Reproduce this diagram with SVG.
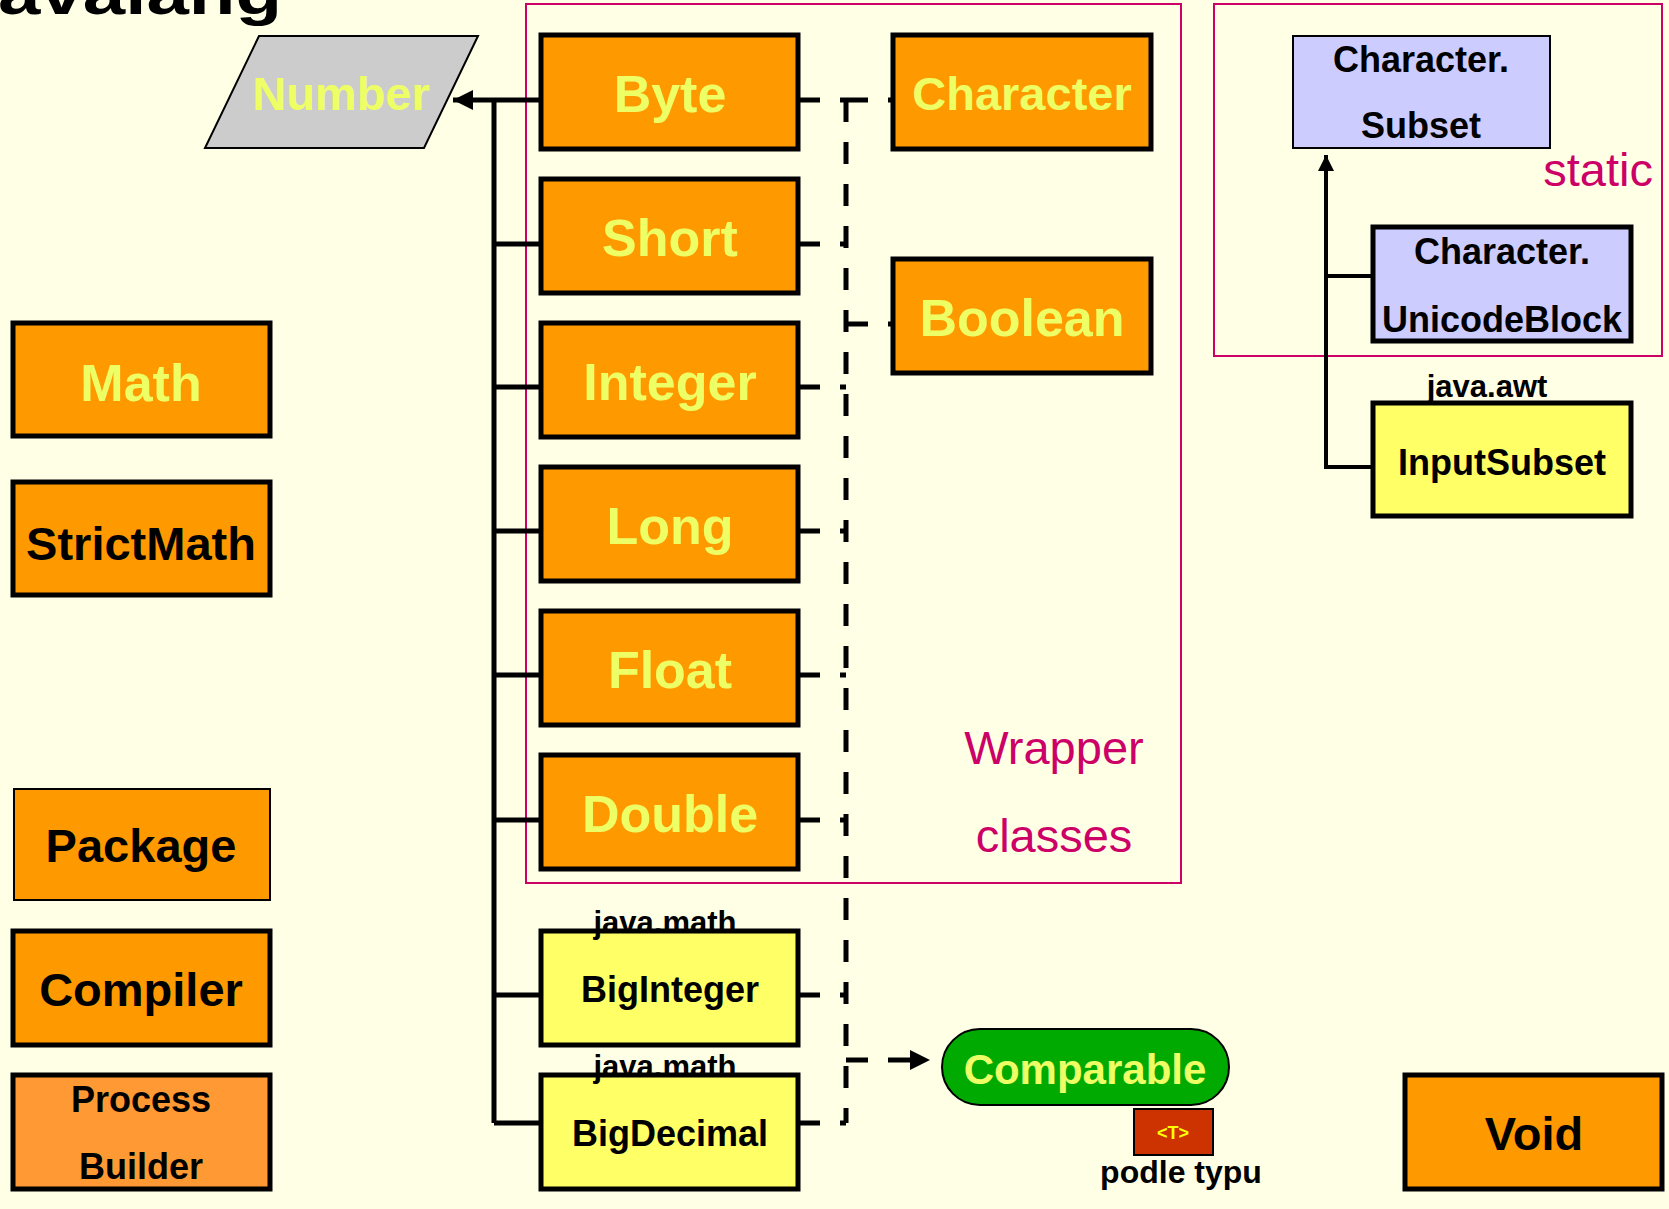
<svg xmlns="http://www.w3.org/2000/svg" width="1669" height="1209" viewBox="0 0 1669 1209">
  <style>
    text { font-family: "Liberation Sans", Arial, Helvetica, sans-serif; font-weight: 700; text-anchor: middle; }
    .box { stroke: #000; stroke-width: 5; }
    .thin { stroke: #000; stroke-width: 2; }
    .orange { fill: #ff9900; }
    .pale { fill: #ffff66; }
    .lav { fill: #ccccff; }
    .big { font-size: 52px; fill: #eeff66; }
    .dark { font-size: 47px; fill: #000; }
    .mid { font-size: 36px; fill: #000; }
    .pkg { font-size: 31px; fill: #000; }
    .group { fill: none; stroke: #cc0066; stroke-width: 2; }
    .note { font-weight: 400; font-size: 47px; fill: #cc0066; }
    .solid { fill: none; stroke: #000; stroke-width: 5; }
    .dash { fill: none; stroke: #000; stroke-width: 5; stroke-dasharray: 22 20; }
  </style>
  <defs>
    <marker id="tri" viewBox="0 0 10 10" refX="10" refY="5" markerWidth="4" markerHeight="4" markerUnits="strokeWidth" orient="auto">
      <path d="M0,0 L10,5 L0,10 z" fill="#000"/>
    </marker>
  </defs>

  <rect width="1669" height="1209" fill="#ffffe6"/>

  <!-- heading, partly above the top edge -->
  <text x="-2" y="14" style="text-anchor:start;font-size:60px" textLength="284" lengthAdjust="spacingAndGlyphs">avalang</text>

  <!-- grouping frames -->
  <g id="wrapper-frame">
    <rect class="group" x="526" y="4" width="655" height="879"/>
    <text class="note" x="1054" y="764">Wrapper</text>
    <text class="note" x="1054" y="852">classes</text>
  </g>
  <g id="static-frame">
    <rect class="group" x="1214" y="4" width="448" height="352"/>
    <text class="note" x="1653" y="186" style="text-anchor:end">static</text>
  </g>

  <!-- connectors -->
  <g id="connectors">
    <!-- inheritance from Number -->
    <path class="solid" d="M494,100 V1123"/>
    <path class="solid" d="M541,100 H453" marker-end="url(#tri)"/>
    <path class="solid" d="M494,244 H541 M494,387 H541 M494,531 H541 M494,675 H541 M494,820 H541 M494,995 H541 M494,1123 H541"/>
    <!-- Comparable realisation -->
    <path class="dash" d="M798,100 H846 M798,244 H846 M798,387 H846 M798,531 H846 M798,675 H846 M798,820 H846 M798,995 H846 M798,1123 H846"/>
    <path class="dash" d="M846,100 H893 M846,324 H893"/>
    <path class="dash" d="M846,100 V1123"/>
    <path class="dash" d="M846,1060 H930" marker-end="url(#tri)"/>
    <!-- Character.Subset hierarchy -->
    <path class="solid" d="M1373,467 H1326 V155" marker-end="url(#tri)" style="stroke-width:4"/>
    <path class="solid" d="M1326,276 H1373" style="stroke-width:4"/>
  </g>

  <g id="number">
    <polygon points="259,36 478,36 424,148 205,148" fill="#cccccc" class="thin"/>
    <text x="341" y="110" style="font-size:47px;fill:#eeff66">Number</text>
  </g>

  <g id="byte"><rect class="box orange" x="541" y="35" width="257" height="114"/><text class="big" x="670" y="112">Byte</text></g>
  <g id="short"><rect class="box orange" x="541" y="179" width="257" height="114"/><text class="big" x="670" y="256">Short</text></g>
  <g id="integer"><rect class="box orange" x="541" y="323" width="257" height="114"/><text class="big" x="670" y="400">Integer</text></g>
  <g id="long"><rect class="box orange" x="541" y="467" width="257" height="114"/><text class="big" x="670" y="544">Long</text></g>
  <g id="float"><rect class="box orange" x="541" y="611" width="257" height="114"/><text class="big" x="670" y="688">Float</text></g>
  <g id="double"><rect class="box orange" x="541" y="755" width="257" height="114"/><text class="big" x="670" y="832">Double</text></g>

  <g id="character"><rect class="box orange" x="893" y="35" width="258" height="114"/><text class="big" x="1022" y="110" style="font-size:47px">Character</text></g>
  <g id="boolean"><rect class="box orange" x="893" y="259" width="258" height="114"/><text class="big" x="1022" y="336">Boolean</text></g>

  <g id="biginteger">
    <rect class="box pale" x="541" y="931" width="257" height="114"/>
    <text class="mid" x="670" y="1002">BigInteger</text>
    <text class="pkg" x="665" y="933">java.math</text>
  </g>
  <g id="bigdecimal">
    <rect class="box pale" x="541" y="1075" width="257" height="114"/>
    <text class="mid" x="670" y="1146">BigDecimal</text>
    <text class="pkg" x="665" y="1077">java.math</text>
  </g>

  <g id="comparable">
    <rect x="942" y="1029" width="287" height="76" rx="38" fill="#00aa00" stroke="#000" stroke-width="2"/>
    <text x="1085" y="1084" style="font-size:42px;fill:#eeff66">Comparable</text>
  </g>
  <g id="type-param">
    <rect x="1134" y="1109" width="79" height="46" fill="#cc3300" stroke="#000" stroke-width="2"/>
    <text x="1173" y="1139" style="font-size:18px;fill:#ffff00">&lt;T&gt;</text>
    <text x="1181" y="1183" style="font-size:32px;fill:#000">podle typu</text>
  </g>

  <g id="math"><rect class="box orange" x="13" y="323" width="257" height="113"/><text class="big" x="141" y="401">Math</text></g>
  <g id="strictmath"><rect class="box orange" x="13" y="482" width="257" height="113"/><text class="dark" x="141" y="560">StrictMath</text></g>
  <g id="package"><rect class="thin orange" x="14" y="789" width="256" height="111"/><text class="dark" x="141" y="862">Package</text></g>
  <g id="compiler"><rect class="box orange" x="13" y="931" width="257" height="114"/><text class="dark" x="141" y="1006">Compiler</text></g>
  <g id="processbuilder">
    <rect class="box" fill="#ff9933" x="13" y="1075" width="257" height="114"/>
    <text class="mid" x="141" y="1112">Process</text>
    <text class="mid" x="141" y="1179">Builder</text>
  </g>

  <g id="character-subset">
    <rect class="thin lav" x="1293" y="36" width="257" height="112"/>
    <text class="mid" x="1421" y="72">Character.</text>
    <text class="mid" x="1421" y="138">Subset</text>
  </g>
  <g id="unicodeblock">
    <rect class="box lav" x="1373" y="227" width="258" height="114"/>
    <text class="mid" x="1502" y="264">Character.</text>
    <text class="mid" x="1502" y="332">UnicodeBlock</text>
  </g>
  <g id="inputsubset">
    <rect class="box pale" x="1373" y="403" width="258" height="113"/>
    <text class="mid" x="1502" y="475">InputSubset</text>
    <text class="pkg" x="1487" y="397">java.awt</text>
  </g>

  <g id="void"><rect class="box orange" x="1405" y="1075" width="257" height="114"/><text class="dark" x="1534" y="1150">Void</text></g>
</svg>
